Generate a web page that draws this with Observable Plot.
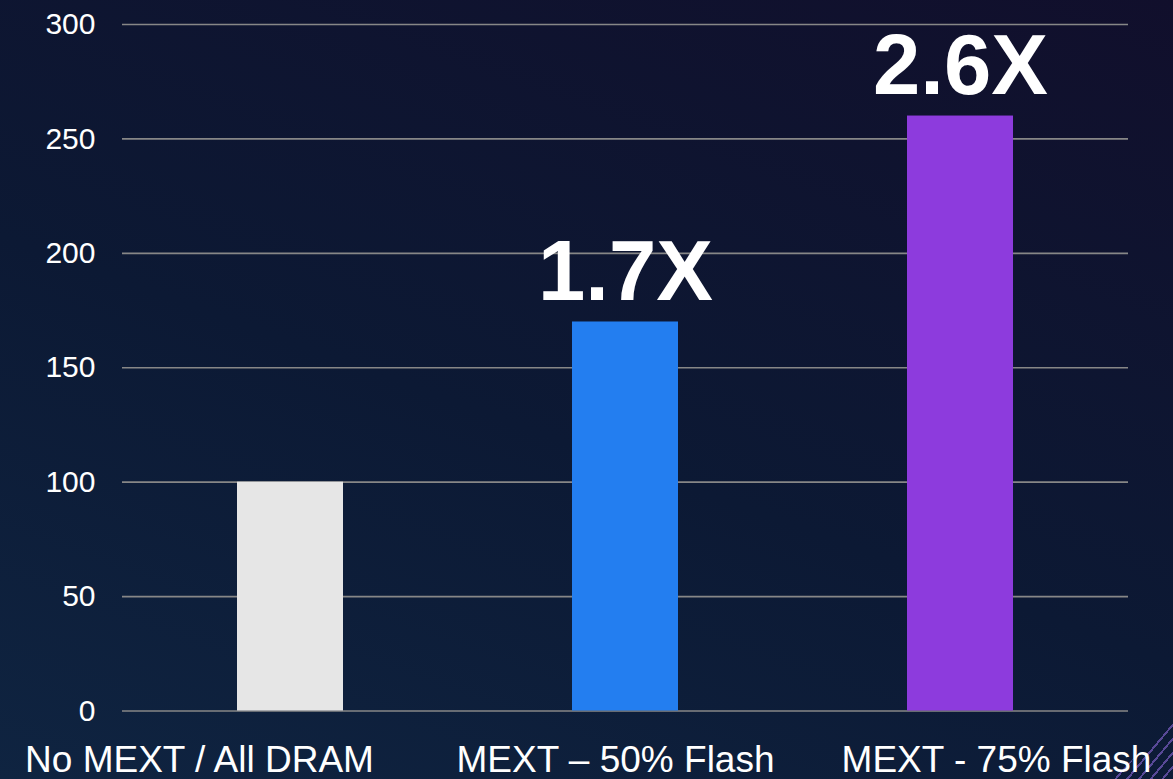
<!DOCTYPE html>
<html>
<head>
<meta charset="utf-8">
<script src="https://cdn.jsdelivr.net/npm/d3@7"></script>
<script src="https://cdn.jsdelivr.net/npm/@observablehq/plot@0.6"></script>
<style>
  html, body { margin: 0; padding: 0; }
  body {
    width: 1173px; height: 779px; overflow: hidden; position: relative;
    background: linear-gradient(20deg, #0f2441 0%, #0c1934 45%, #110f2c 100%);
    font-family: "Liberation Sans", Arial, sans-serif;
  }
  #deco {
    position: absolute; right: 0; bottom: 0; width: 60px; height: 60px;
    background: repeating-linear-gradient(-50deg, transparent 0 7px, rgba(150,110,230,0.55) 7px 9px);
    clip-path: polygon(100% 0, 100% 100%, 0 100%);
  }
  #chart { position: absolute; left: 0; top: 0; }
  svg { display: block; }
</style>
</head>
<body>
<div id="deco"></div>
<div id="chart"></div>
<script>
const categories = ["No MEXT / All DRAM", "MEXT – 50% Flash", "MEXT - 75% Flash"];
const values = [100, 170, 260];
const barColors = ["#e6e6e6", "#237ef0", "#8d3bdd"];
const annotations = ["", "1.7X", "2.6X"];
const yTicks = [0, 50, 100, 150, 200, 250, 300];

const data = categories.map((c, i) => ({cat: c, value: values[i], color: barColors[i], note: annotations[i]}));
const labelShift = [-91, -10, 36];

const chart = Plot.plot({
  width: 1173,
  height: 779,
  marginLeft: 122,
  marginRight: 45,
  marginTop: 24,
  marginBottom: 68.5,
  style: {background: "transparent", fontFamily: "'Liberation Sans', Arial, sans-serif", color: "#ffffff"},
  x: {domain: categories, paddingInner: 0.684, paddingOuter: 0.343, axis: null},
  y: {domain: [0, 300], axis: null},
  marks: [
    Plot.ruleY(yTicks, {stroke: "#878787", strokeWidth: 1.7}),
    Plot.text(yTicks, {y: d => d, frameAnchor: "left", text: d => String(d), textAnchor: "end", dx: -27, fontSize: 30, fill: "#ffffff"}),
    Plot.barY(data, {x: "cat", y: "value", fill: "color"}),
    Plot.text(data.filter(d => d.note), {x: "cat", y: "value", text: "note", lineAnchor: "bottom", dy: -22, fontSize: 85, fontWeight: "bold", fill: "#ffffff"}),
    ...categories.map((c, i) => Plot.text([c], {x: d => d, frameAnchor: "bottom", text: d => d, lineAnchor: "bottom", dy: 61, dx: labelShift[i], fontSize: 37, fill: "#ffffff"}))
  ]
});
document.getElementById("chart").appendChild(chart);
</script>
</body>
</html>
